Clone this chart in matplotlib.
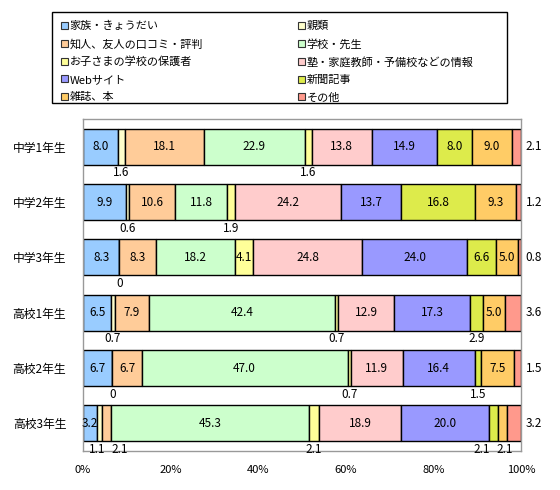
import numpy as np
import matplotlib.pyplot as plt
from matplotlib.patches import Patch, Rectangle

plt.rcParams['font.family'] = ['Noto Sans CJK JP', 'DejaVu Sans']

GRADES = ['中学1年生', '中学2年生', '中学3年生', '高校1年生', '高校2年生', '高校3年生']
SOURCES = ['家族・きょうだい', '親類', '知人、友人の口コミ・評判', '学校・先生',
           'お子さまの学校の保護者', '塾・家庭教師・予備校などの情報',
           'Webサイト', '新聞記事', '雑誌、本', 'その他']
COLORS = ['#99CCFF', '#FFFFCC', '#FFCC99', '#CCFFCC', '#FFFF99',
          '#FFCCCC', '#9999FF', '#DDEB4B', '#FFCC66', '#FF998C']

# rows = grades, columns = sources (%)
family   = [8.0, 9.9, 8.3, 6.5, 6.7, 3.2]
relative = [1.6, 0.6, 0.0, 0.7, 0.0, 1.1]
friends  = [18.1, 10.6, 8.3, 7.9, 6.7, 2.1]
school   = [22.9, 11.8, 18.2, 42.4, 47.0, 45.3]
parents  = [1.6, 1.9, 4.1, 0.7, 0.7, 2.1]
cram     = [13.8, 24.2, 24.8, 12.9, 11.9, 18.9]
web      = [14.9, 13.7, 24.0, 17.3, 16.4, 20.0]
paper    = [8.0, 16.8, 6.6, 2.9, 1.5, 2.1]
magazine = [9.0, 9.3, 5.0, 5.0, 7.5, 2.1]
other    = [2.1, 1.2, 0.8, 3.6, 1.5, 3.2]

data = np.array([family, relative, friends, school, parents,
                 cram, web, paper, magazine, other]).T

# small horizontal nudges (points) for crowded labels under the bars
NUDGE = {(5, 1): -1.5, (5, 2): 9.5, (5, 7): -8.5, (5, 8): 1.5}

fig = plt.figure(figsize=(5.6, 4.9), dpi=100)
ax = fig.add_axes([83/560, 1 - 451/490, 438/560, 332/490])

y = np.arange(len(GRADES))
bar_h = 0.65
left = np.zeros(len(GRADES))
for j, (name, color) in enumerate(zip(SOURCES, COLORS)):
    vals = data[:, j]
    ax.barh(y, vals, left=left, height=bar_h, color=color,
            edgecolor='black', linewidth=1)
    for i, v in enumerate(vals):
        label = '0' if v == 0 else f'{v:.1f}'
        cx = left[i] + v / 2
        if j == len(SOURCES) - 1:
            ax.annotate(label, (100, y[i]), xytext=(3.5, 0), textcoords='offset points',
                        ha='left', va='center', fontsize=8.5)
        elif v < 3:
            ax.annotate(label, (cx, y[i] + bar_h / 2),
                        xytext=(NUDGE.get((i, j), 0), -6), textcoords='offset points',
                        ha='center', va='center', fontsize=8.5)
        else:
            ax.text(cx, y[i], label, ha='center', va='center', fontsize=8.5)
    left += vals

ax.set_xlim(0, 100)
ax.set_ylim(len(GRADES) - 0.5, -0.5)
ax.set_yticks(y)
ax.set_yticklabels(GRADES, fontsize=8.5)
ax.set_xticks(np.arange(0, 101, 20))
ax.set_xticklabels([f'{t}%' for t in range(0, 101, 20)], fontsize=8)
ax.tick_params(axis='y', length=0, pad=12)
ax.tick_params(axis='x', length=0, pad=10)
for s in ax.spines.values():
    s.set_color('#999999')
    s.set_linewidth(1)

# legend, row-major order in 2 columns, inside a fixed frame
order = [0, 2, 4, 6, 8, 1, 3, 5, 7, 9]
handles = [Patch(facecolor=COLORS[k], edgecolor='#333333', linewidth=0.8) for k in order]
labels = [SOURCES[k] for k in order]
leg = fig.legend(handles, labels, ncol=2, loc='upper left',
                 bbox_to_anchor=(61/560, 1 - 21/490), borderaxespad=0,
                 borderpad=0, fontsize=8, frameon=False,
                 handlelength=0.6, handleheight=0.6, handletextpad=0.2,
                 labelspacing=0.66, columnspacing=8.5)
fig.patches.append(Rectangle((52/560, 1 - 103/490), 455/560, 91/490,
                             transform=fig.transFigure, fill=False,
                             edgecolor='black', linewidth=1))

fig.savefig('out.png', dpi=100)
